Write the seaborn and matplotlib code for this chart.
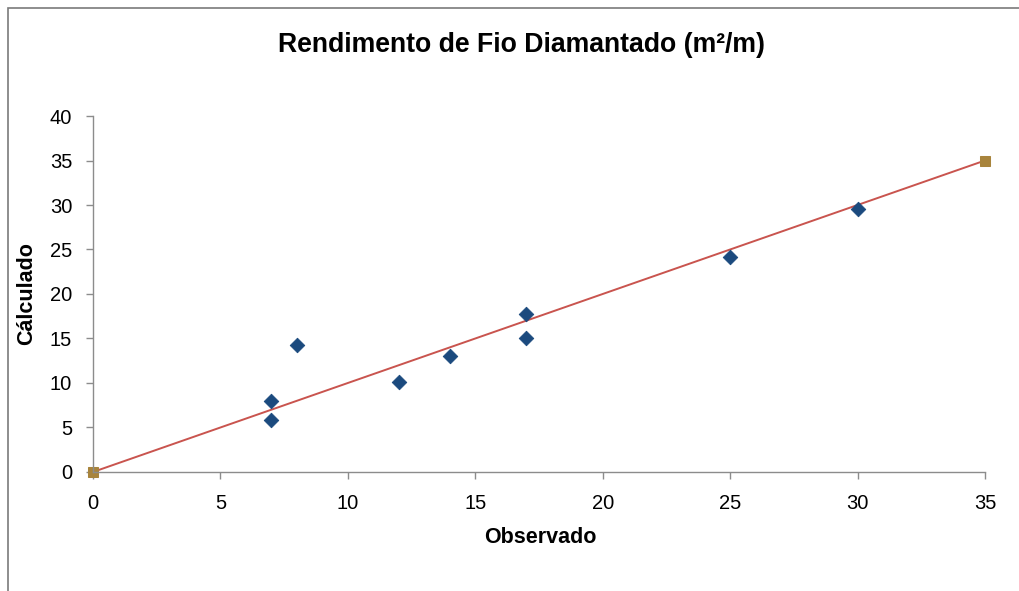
import matplotlib
matplotlib.use("Agg")
import matplotlib.pyplot as plt
import seaborn as sns
import pandas as pd
from matplotlib.patches import Rectangle

# Data
observado = [7, 7, 8, 12, 14, 17, 17, 25, 30]
calculado = [8.0, 5.8, 14.3, 10.1, 13.0, 17.7, 15.0, 24.2, 29.6]
ref_x = [0, 35]
ref_y = [0, 35]
x_ticks = [0, 5, 10, 15, 20, 25, 30, 35]
y_ticks = [0, 5, 10, 15, 20, 25, 30, 35, 40]

sns.set_theme(style="white")
plt.rcParams['font.family'] = ['Liberation Sans', 'DejaVu Sans']
plt.rcParams['text.color'] = 'black'
plt.rcParams['axes.labelcolor'] = 'black'

fig = plt.figure(figsize=(10.19, 5.91), dpi=100)
ax = fig.add_axes([0.0913, 0.2014, 0.8753, 0.6023])

df_pts = pd.DataFrame({"Observado": observado, "Calculado": calculado})
df_ref = pd.DataFrame({"x": ref_x, "y": ref_y})

sns.lineplot(data=df_ref, x="x", y="y", ax=ax, color="#c9544e", linewidth=1.4,
             marker="s", markersize=7, markerfacecolor="#a8843c",
             markeredgecolor="#a8843c", zorder=2, clip_on=False)
sns.scatterplot(data=df_pts, x="Observado", y="Calculado", ax=ax, marker="D",
                s=55, color="#1b4a7e", edgecolor="#1b4a7e", zorder=3, clip_on=False)

ax.set_xlim(0, 35)
ax.set_ylim(0, 40)
ax.set_xticks(x_ticks)
ax.set_yticks(y_ticks)
ax.set_xticklabels([str(t) for t in x_ticks])
ax.set_yticklabels([str(t) for t in y_ticks])

for side in ["top", "right"]:
    ax.spines[side].set_visible(False)
for side in ["left", "bottom"]:
    ax.spines[side].set_color("#8c8c8c")
    ax.spines[side].set_linewidth(1.0)

ax.tick_params(axis="both", which="major", direction="out", length=5, width=1,
               color="#8c8c8c", labelsize=14.5, labelcolor="black")
ax.tick_params(axis="x", bottom=True, pad=11)
ax.tick_params(axis="y", left=True, pad=10)

ax.set_xlabel("Observado", fontsize=15.5, fontweight="bold", va="center", color="black")
ax.set_ylabel("Cálculado", fontsize=15.5, fontweight="bold", va="center", color="black")
ax.xaxis.set_label_coords(0.501, -0.183)
ax.yaxis.set_label_coords(-0.074, 0.5)
ax.grid(False)

fig.text(522 / 1019, 1 - 45 / 591, "Rendimento de Fio Diamantado (m²/m)",
         ha="center", va="center", fontsize=19.2, fontweight="bold", color="black")

# Outer chart frame (left and top edges visible)
fig.patches.append(Rectangle((8 / 1019, -0.05), 1.2, 1 - 8 / 591 + 0.05,
                             transform=fig.transFigure, fill=False,
                             edgecolor="#7a7a7a", linewidth=1.2))

fig.savefig("out.png", dpi=100)
